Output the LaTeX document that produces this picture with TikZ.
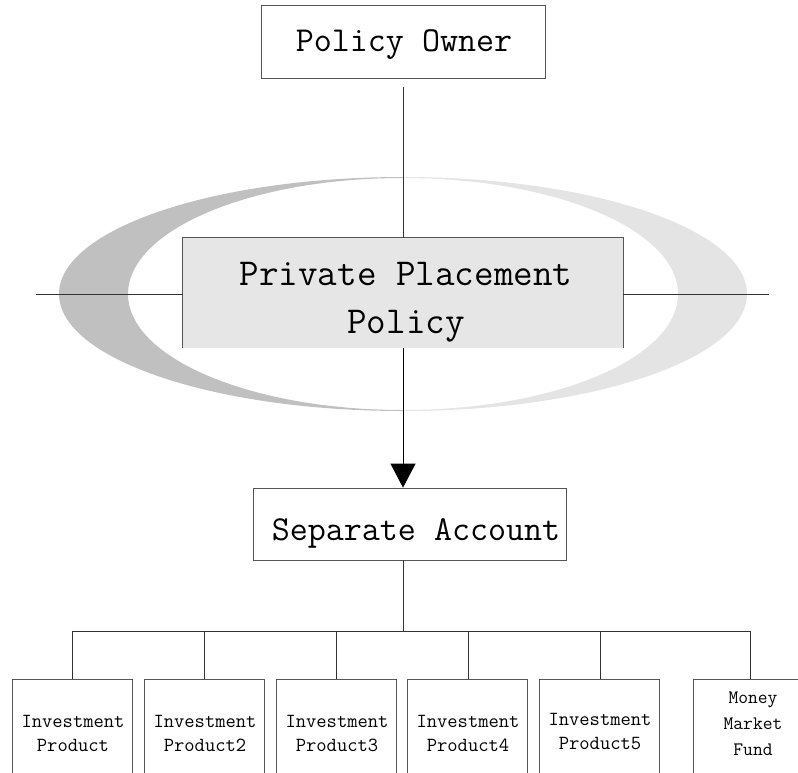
\documentclass[tikz,border=0pt]{standalone}
\usepackage{fontspec}
\setmainfont{Latin Modern Mono}
\usetikzlibrary{arrows.meta}
\definecolor{lineg}{HTML}{333333}
\definecolor{boxg}{HTML}{555555}
\definecolor{crescdark}{HTML}{C0C0C0}
\definecolor{cresclight}{HTML}{E4E4E4}
\definecolor{ppfill}{HTML}{E6E6E6}
\begin{document}
\begin{tikzpicture}[x=1pt,y=-1pt,
  box/.style={draw=boxg, line width=0.8pt, inner sep=0pt},
  conn/.style={draw=lineg, line width=0.8pt},
  bigtext/.style={font=\fontsize{35}{40}\selectfont, inner sep=0pt},
  smalltext/.style={font=\fontsize{20}{24}\selectfont, align=center, inner sep=0pt}]
\useasboundingbox (0,0) rectangle (798,772);
% crescent
\begin{scope}
  \clip (0,0) rectangle (403,772);
  \fill[crescdark, even odd rule] (403,294) ellipse [x radius=344, y radius=117]
                                  (403,294) ellipse [x radius=275, y radius=116];
\end{scope}
\begin{scope}
  \clip (403,0) rectangle (798,772);
  \fill[cresclight, even odd rule] (403,294) ellipse [x radius=344, y radius=117]
                                   (403,294) ellipse [x radius=275, y radius=116];
\end{scope}
% Policy owner
\node[box, minimum width=284pt, minimum height=73pt] (po) at (403,41.5) {};
\node[bigtext] (potext) at (404,45) {Policy Owner};
% Private placement policy
\node[fill=ppfill, minimum width=440pt, minimum height=110pt, inner sep=0pt] (ppp) at (403,293) {};
\draw[boxg, line width=0.8pt] (ppp.south west) -- (ppp.north west) -- (ppp.north east) -- (ppp.south east);
\node[font=\fontsize{38}{48}\selectfont, align=center, inner sep=0pt] (pptext) at (406,302) {Private Placement\\Policy};
% Separate account
\node[box, minimum width=313pt, minimum height=72pt] (sa) at (409.5,524) {};
\node[font=\fontsize{35}{40}\selectfont, inner sep=0pt] (satext) at (416,533) {Separate Account};
% connectors
\coordinate (potail) at (403,87);
\draw[conn] (potail) -- (ppp.north);
\coordinate (hl) at (36,294);
\coordinate (hr) at (769,294);
\draw[conn] (hl) -- (hl -| ppp.west);
\draw[conn] (ppp.east |- hr) -- (hr);
\draw[conn, draw=black, -{Triangle[width=25pt,length=24pt]}] (ppp.south) -- (ppp.south |- sa.north);
\coordinate (bushub) at (403,631);
\draw[conn] (bushub |- sa.south) -- (bushub);
\coordinate (b1) at (72,631);
\coordinate (b2) at (204,631);
\coordinate (b3) at (336,631);
\coordinate (b4) at (468,631);
\coordinate (b5) at (600,631);
\coordinate (b6) at (750,631);
\draw[conn] (b1) -- (b6);
% product boxes
\node[box, minimum width=120pt, minimum height=130pt, anchor=north] (p1) at (72,679) {};
\node[box, minimum width=120pt, minimum height=130pt, anchor=north] (p2) at (204.5,679) {};
\node[box, minimum width=120pt, minimum height=130pt, anchor=north] (p3) at (336.5,679) {};
\node[box, minimum width=120pt, minimum height=130pt, anchor=north] (p4) at (467.5,679) {};
\node[box, minimum width=120pt, minimum height=130pt, anchor=north] (p5) at (599.5,679) {};
\node[box, minimum width=120pt, minimum height=130pt, anchor=north] (p6) at (753,679) {};
\foreach \i in {1,...,6} {\draw[conn] (b\i) -- (b\i |- p\i.north);}
\node[smalltext] (t1) at (73,733) {Investment\\Product};
\node[smalltext] (t2) at (205,733) {Investment\\Product2};
\node[smalltext] (t3) at (337,733) {Investment\\Product3};
\node[smalltext] (t4) at (468,733) {Investment\\Product4};
\node[smalltext] (t5) at (600,731) {Investment\\Product5};
\node[font=\fontsize{19}{26}\selectfont, align=center, inner sep=0pt] (t6) at (753,724) {Money\\Market\\Fund};
\end{tikzpicture}
\end{document}
